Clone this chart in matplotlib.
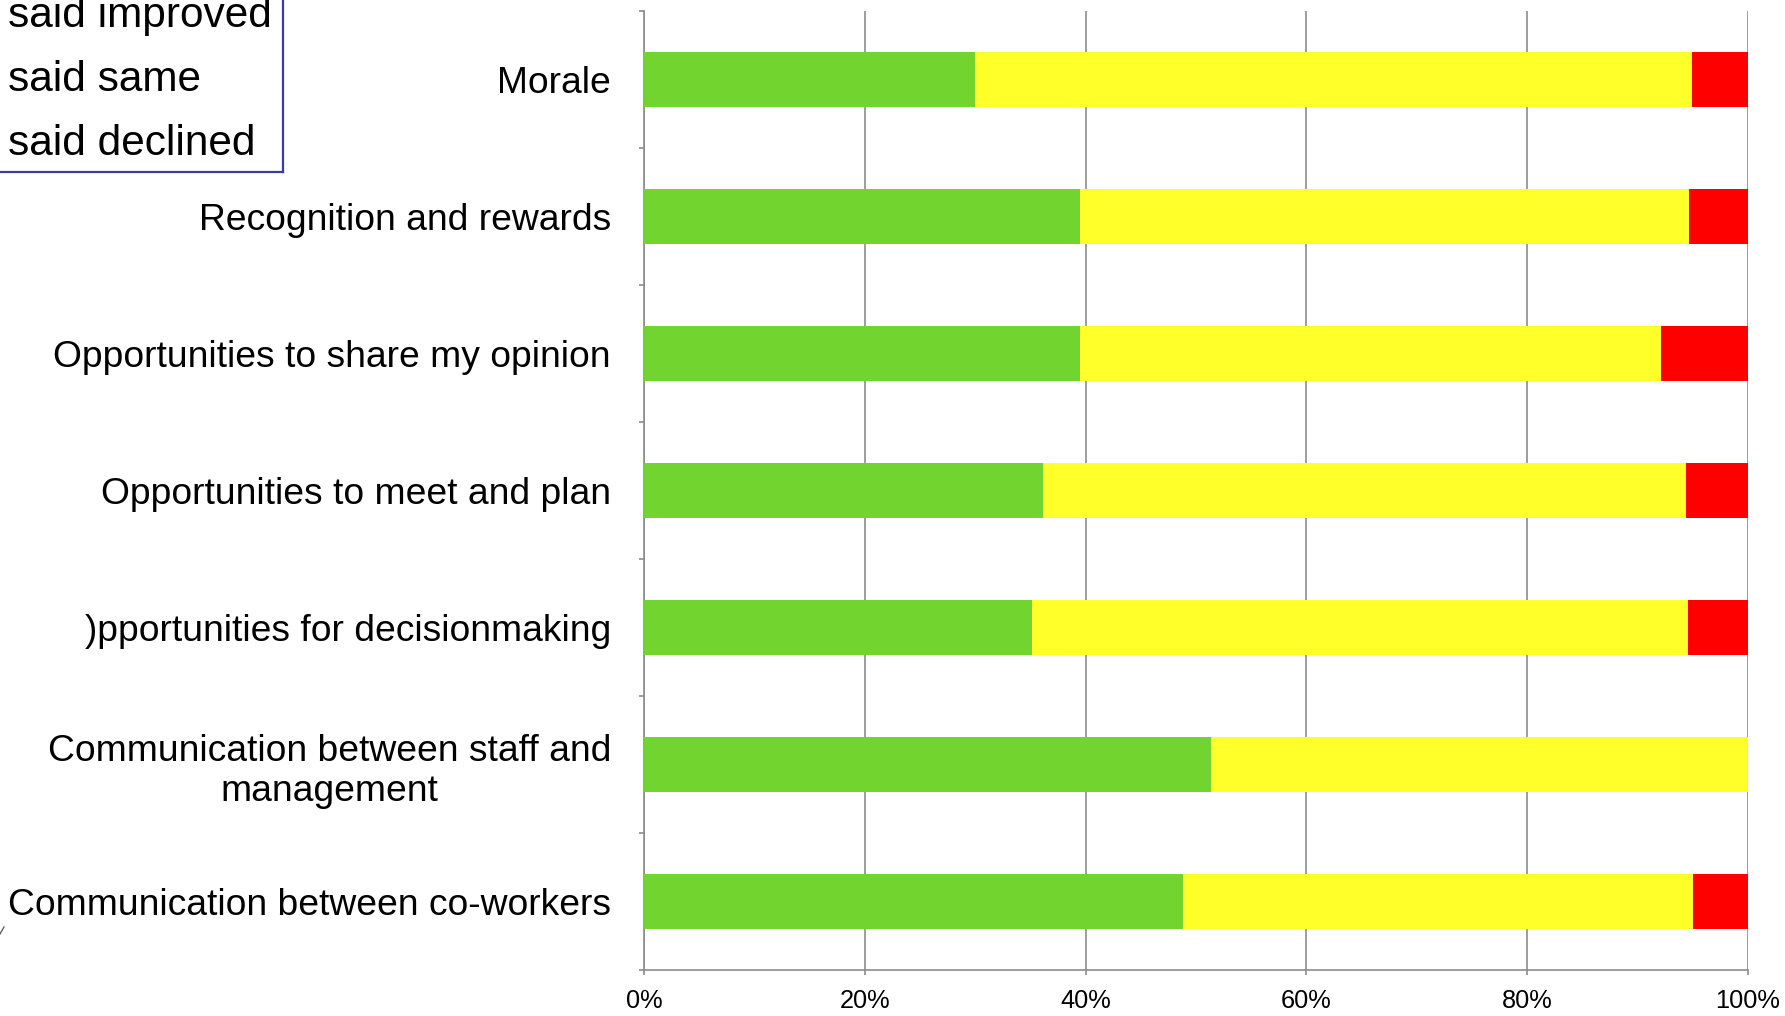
import numpy as np
import matplotlib
matplotlib.use("Agg")
import matplotlib.pyplot as plt
from matplotlib.lines import Line2D

plt.rcParams['font.family'] = ['Liberation Sans', 'DejaVu Sans']

# data (top to bottom)
categories = ['Morale',
              'Recognition and rewards',
              'Opportunities to share my opinion',
              'Opportunities to meet and plan',
              ')pportunities for decisionmaking',
              'Communication between staff and\nmanagement',
              'Communication between co-workers']
improved = [30.0, 39.5, 39.5, 36.1, 35.1, 51.4, 48.8]
same = [65.0, 55.2, 52.7, 58.3, 59.5, 48.6, 46.3]
declined = [5.0, 5.3, 7.8, 5.6, 5.4, 0.0, 4.9]
legend_labels = ['said improved', 'said same', 'said declined']
colors = ['#72D52F', '#FFFF2A', '#FF0000']
xticks = [0, 20, 40, 60, 80, 100]

W, H = 1785, 1016
fig = plt.figure(figsize=(W / 100, H / 100), dpi=100)
ax = fig.add_axes([644.3 / W, 1 - 970 / H, (1747.5 - 644.3) / W, (970 - 11.4) / H])

y = np.arange(len(categories))
left = np.zeros(len(categories))
for vals, c in zip([improved, same, declined], colors):
    ax.barh(y, vals, left=left, height=0.4, color=c, zorder=3)
    left += np.array(vals)

ax.set_xlim(0, 100)
ax.set_ylim(len(categories) - 0.5, -0.5)

ax.set_xticks(xticks)
ax.set_xticklabels(['{}%'.format(t) for t in xticks], fontsize=18.3)
ax.xaxis.grid(True, color='#8C8C8C', linewidth=1.2, zorder=0)

ax.set_yticks(y)
ax.set_yticklabels(categories, fontsize=26.8, multialignment='center')
ax.set_yticks(np.arange(len(categories) + 1) - 0.5, minor=True)
ax.tick_params(axis='y', which='major', length=0, pad=24)
ax.tick_params(axis='y', which='minor', length=3.8, width=1.2, color='#8C8C8C', direction='out')
ax.tick_params(axis='x', length=3.8, width=1.2, color='#8C8C8C', pad=10)

for s in ['top', 'right']:
    ax.spines[s].set_visible(False)
for s in ['left', 'bottom']:
    ax.spines[s].set_color('#8C8C8C')
    ax.spines[s].set_linewidth(1.2)

# legend box, mostly cut off at the top-left of the slide
box = [Line2D([0, 283 / W], [1 - 172 / H, 1 - 172 / H], transform=fig.transFigure,
              color='#3C3C9C', linewidth=1.6),
       Line2D([283 / W, 283 / W], [1 - 172 / H, 1.01], transform=fig.transFigure,
              color='#3C3C9C', linewidth=1.6)]
for ln in box:
    fig.add_artist(ln)
for i, lab in enumerate(legend_labels):
    fig.text(8 / W, 1 - (27 + 64 * i) / H, lab, fontsize=30.5, va='baseline', ha='left')

# small stray mark at the lower-left edge
fig.add_artist(Line2D([0, 4 / W], [1 - 934 / H, 1 - 927 / H], transform=fig.transFigure,
                      color='#606060', linewidth=1))

fig.savefig('out.png', dpi=100)
